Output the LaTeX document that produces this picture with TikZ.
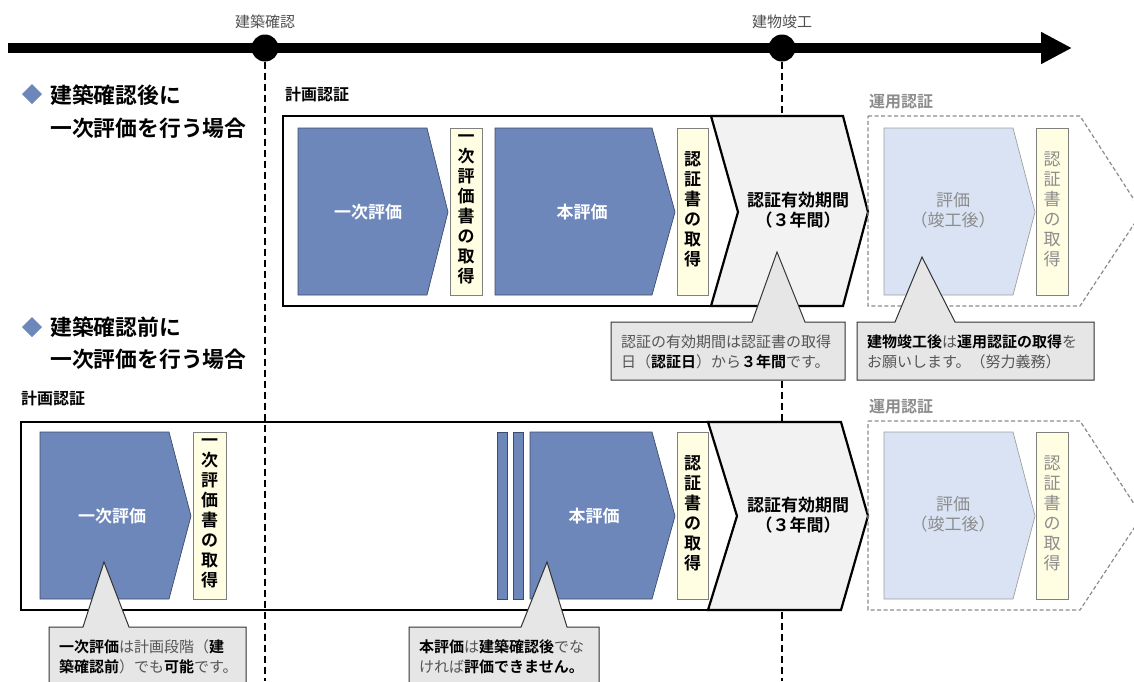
\documentclass[tikz,border=0pt]{standalone}
\usepackage{fontspec}
\setmainfont{Noto Sans CJK JP}[BoldFont={Noto Sans CJK JP Bold}]
\usetikzlibrary{arrows.meta}
\definecolor{pblue}{RGB}{110,135,186}
\definecolor{pborder}{RGB}{60,75,105}
\definecolor{lblue}{RGB}{218,227,243}
\definecolor{ycream}{RGB}{255,253,226}
\definecolor{yborder}{RGB}{128,128,128}
\definecolor{chevfill}{RGB}{242,242,242}
\definecolor{callfill}{RGB}{230,230,230}
\definecolor{calltext}{RGB}{85,85,85}
\definecolor{ghost}{RGB}{140,140,140}
\definecolor{labgray}{RGB}{80,80,80}
\begin{document}
\begin{tikzpicture}[x=1pt,y=-1pt,
  pent/.style={fill=pblue,draw=pborder,line width=0.7pt},
  lpent/.style={fill=lblue,draw=gray!75,line width=0.7pt},
  ybox/.style={fill=ycream,draw=yborder,line width=0.7pt},
  chev/.style={fill=chevfill,draw=black,line width=2.2pt,line join=miter},
  frame/.style={draw=black,line width=2.2pt},
  dframe/.style={draw=ghost,line width=1.2pt,dash pattern=on 4pt off 2.5pt},
  callout/.style={fill=callfill,draw=black!80,line width=1pt},
  vline/.style={draw=black,line width=1.6pt,dash pattern=on 7pt off 4pt},
  vtext/.style={inner sep=0pt,align=center,font=\fontsize{17}{20}\selectfont\bfseries},
  gvtext/.style={inner sep=0pt,align=center,text=ghost,font=\fontsize{17}{20}\selectfont},
  ptext/.style={inner sep=0pt,text=white,font=\fontsize{17}{20}\selectfont\bfseries},
  ctext/.style={inner sep=0pt,align=left,anchor=west,text=calltext,font=\fontsize{15}{20}\selectfont},
  title/.style={inner sep=0pt,anchor=west,font=\fontsize{21.8}{24}\selectfont\bfseries},
  sect/.style={inner sep=0pt,anchor=west,font=\fontsize{16}{18}\selectfont\bfseries},
  tlab/.style={inner sep=0pt,text=labgray,font=\fontsize{15}{16}\selectfont},
  mile/.style={circle,fill=black,inner sep=0pt,minimum size=27pt}
]
\useasboundingbox (0,0) rectangle (1134,681);
\fill[white] (0,0) rectangle (1134,681);

% timeline
\coordinate (tlstart) at (8,48);
\coordinate (tlend) at (1072,48);
\draw[line width=10pt,-{Triangle[length=31pt,width=30pt]}] (tlstart) -- (tlend);
\node[mile] (kakunin) at (265,48) {};
\node[mile] (shunko) at (782,48) {};
\node[tlab] (kakuninlab) at (265,22) {建築確認};
\node[tlab] (shunkolab) at (782,22) {建物竣工};
\coordinate (kakuninbot) at (265,681);
\coordinate (shunkobot) at (782,681);
\draw[vline] (kakunin.south) -- (kakuninbot);
\draw[vline] (shunko.south) -- (shunkobot);

% titles
\fill[pblue] (32,84) -- (42,94) -- (32,104) -- (22,94) -- cycle;
\node[title] (t1a) at (50,95) {建築確認後に};
\node[title] (t1b) at (50,128) {一次評価を行う場合};
\fill[pblue] (32,317) -- (42,327) -- (32,337) -- (22,327) -- cycle;
\node[title] (t2a) at (50,327) {建築確認前に};
\node[title] (t2b) at (50,359) {一次評価を行う場合};

% ===== upper row =====
\node[sect] (keikaku1) at (285,94) {計画認証};
\draw[frame] (711,116) -- (283,116) -- (283,306) -- (711,306);
\draw[pent] (298,128) -- (427,128) -- (448,212) -- (427,295) -- (298,295) -- cycle;
\node[ptext] (ichiji1) at (368,212) {一次評価};
\draw[ybox] (450,128) rectangle (482,295);
\node[vtext] (ichijisho1) at (466,209) {一\\次\\評\\価\\書\\の\\取\\得};
\draw[pent] (495,128) -- (652,128) -- (675,212) -- (652,295) -- (495,295) -- cycle;
\node[ptext] (hon1) at (582,212) {本評価};
\draw[ybox] (677,128) rectangle (708,295);
\node[vtext] (nintei1) at (692.5,209) {認\\証\\書\\の\\取\\得};
\draw[chev] (711,116) -- (843,116) -- (868,212) -- (843,306) -- (711,306) -- (738,212) -- cycle;
\node[vtext] (yuko1) at (798,210) {認証有効期間\\（３年間）};

\node[sect,text=ghost] (unyo1) at (869,102) {運用認証};
\draw[dframe] (868,116) -- (1080,116) -- (1142,212) -- (1080,306) -- (868,306) -- cycle;
\draw[lpent] (884,128) -- (1013,128) -- (1035,212) -- (1013,295) -- (884,295) -- cycle;
\node[gvtext] (hyoka1) at (953,210) {評価\\（竣工後）};
\draw[ybox] (1036,128) rectangle (1068,295);
\node[gvtext] (unyosho1) at (1052,209) {認\\証\\書\\の\\取\\得};

% callouts upper
\draw[callout] (611,322) -- (752,322) -- (777,252) -- (805,322) -- (845,322) -- (845,380) -- (611,380) -- cycle;
\node[ctext] (c1) at (621,352) {認証の有効期間は認証書の取得\\日（\textcolor{black}{\bfseries 認証日}）から\textcolor{black}{\bfseries ３年間}です。};
\draw[callout] (857,322) -- (895,322) -- (922,257) -- (955,322) -- (1094,322) -- (1094,380) -- (857,380) -- cycle;
\node[ctext] (c2) at (867,352) {\textcolor{black}{\bfseries 建物竣工後}は\textcolor{black}{\bfseries 運用認証の取得}を\\お願いします。（努力義務）};

% ===== lower row =====
\node[sect] (keikaku2) at (21,398) {計画認証};
\draw[frame] (708,422) -- (21,422) -- (21,610) -- (708,610);
\draw[pent] (40,432) -- (169,432) -- (191,516) -- (169,599) -- (40,599) -- cycle;
\node[ptext] (ichiji2) at (112,516) {一次評価};
\draw[ybox] (193,432) rectangle (226,599);
\node[vtext] (ichijisho2) at (209.5,513) {一\\次\\評\\価\\書\\の\\取\\得};
\draw[pent] (497,432) rectangle (507,599);
\draw[pent] (513,432) rectangle (523,599);
\draw[pent] (530,432) -- (652,432) -- (675,516) -- (652,599) -- (530,599) -- cycle;
\node[ptext] (hon2) at (594,516) {本評価};
\draw[ybox] (677,432) rectangle (708,599);
\node[vtext] (nintei2) at (692.5,513) {認\\証\\書\\の\\取\\得};
\draw[chev] (708,422) -- (841,422) -- (868,516) -- (841,610) -- (708,610) -- (737,516) -- cycle;
\node[vtext] (yuko2) at (798,515) {認証有効期間\\（３年間）};

\node[sect,text=ghost] (unyo2) at (869,407) {運用認証};
\draw[dframe] (868,421) -- (1080,421) -- (1142,516) -- (1080,610) -- (868,610) -- cycle;
\draw[lpent] (884,432) -- (1013,432) -- (1035,516) -- (1013,599) -- (884,599) -- cycle;
\node[gvtext] (hyoka2) at (953,514) {評価\\（竣工後）};
\draw[ybox] (1036,432) rectangle (1068,599);
\node[gvtext] (unyosho2) at (1052,513) {認\\証\\書\\の\\取\\得};

% callouts lower
\draw[callout] (49,627) -- (83,627) -- (104,562) -- (129,627) -- (246,627) -- (246,690) -- (49,690) -- cycle;
\node[ctext] (c3) at (59,657) {\textcolor{black}{\bfseries 一次評価}は計画段階（\textcolor{black}{\bfseries 建}\\\textcolor{black}{\bfseries 築確認前}）でも\textcolor{black}{\bfseries 可能}です。};
\draw[callout] (409,627) -- (521,627) -- (547,562) -- (567,627) -- (599,627) -- (599,690) -- (409,690) -- cycle;
\node[ctext] (c4) at (419,657) {\textcolor{black}{\bfseries 本評価}は\textcolor{black}{\bfseries 建築確認後}でな\\ければ\textcolor{black}{\bfseries 評価できません。}};
\end{tikzpicture}
\end{document}
